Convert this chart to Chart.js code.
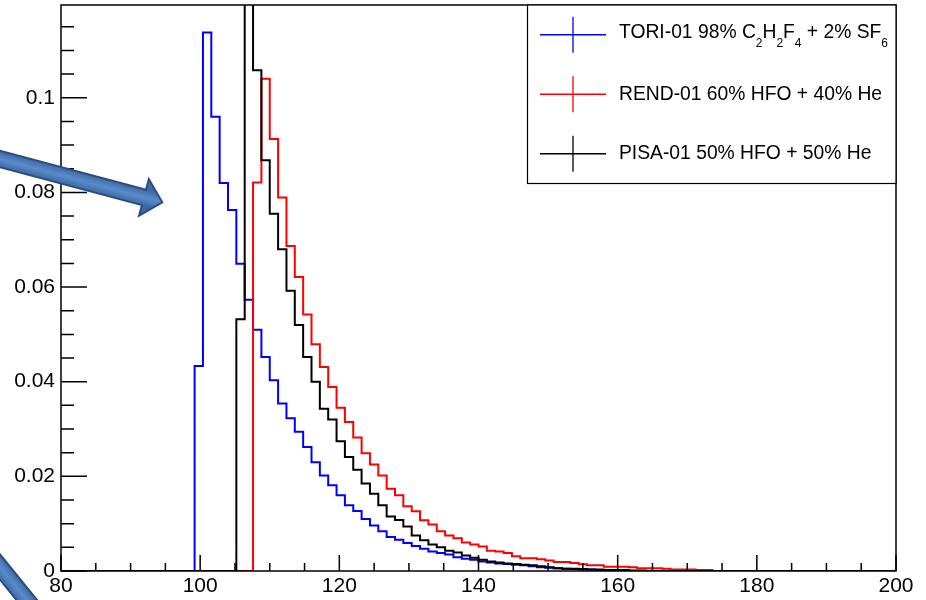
<!DOCTYPE html>
<html>
<head>
<meta charset="utf-8">
<script src="https://cdn.jsdelivr.net/npm/chart.js@4.4.1/dist/chart.umd.min.js"></script>
<style>
  html, body { margin: 0; padding: 0; background: #fff; }
  #wrap { width: 926px; height: 600px; }
</style>
</head>
<body>
<div id="wrap"><canvas id="chart" width="926" height="600"></canvas></div>
<script>
// binning of the histograms: 100 bins between 80 and 200
const xMin = 80;
const xMax = 200;
const nBins = 100;
const binWidth = (xMax - xMin) / nBins;

const xTicks = [80, 100, 120, 140, 160, 180, 200];
const xTickLabels = ['80', '100', '120', '140', '160', '180', '200'];
const yTicks = [0, 0.02, 0.04, 0.06, 0.08, 0.1];
const yTickLabels = ['0', '0.02', '0.04', '0.06', '0.08', '0.1'];
const yMax = 0.1196;

// legend texts (ROOT style subscripts)
const legendLabels = [
    'TORI-01 98% C_{2}H_{2}F_{4} + 2% SF_{6}',
    'REND-01 60% HFO + 40% He',
    'PISA-01 50% HFO + 50% He'
];
const legendColors = ['#0000ff', '#ff0000', '#000000'];

// bin contents, starting at the first non empty bin
const toriFirstBin = 16;
const toriValues = [
    0.0433, 0.1138, 0.0960, 0.0820, 0.0763, 0.0649, 0.0573, 0.0510, 0.0452, 0.0403,
    0.0354, 0.0323, 0.0294, 0.0262, 0.0230, 0.0202, 0.0181, 0.0160, 0.0139, 0.0127,
    0.0110, 0.0096, 0.0084, 0.0072, 0.0066, 0.0059, 0.0053, 0.0047, 0.0041, 0.0038,
    0.0035, 0.0029, 0.0026, 0.0024, 0.0020, 0.0018, 0.0016, 0.0015, 0.0013, 0.0012,
    0.0010, 0.0008, 0.0007, 0.0006, 0.0005, 0.0004, 0.0003, 0.0003, 0.0002, 0.0002,
    0.0001, 0.0001
];

const rendFirstBin = 23;
const rendValues = [
    0.0821, 0.1040, 0.0913, 0.0789, 0.0687, 0.0621, 0.0542, 0.0479, 0.0431, 0.0389,
    0.0345, 0.0315, 0.0282, 0.0249, 0.0225, 0.0202, 0.0174, 0.0160, 0.0137, 0.0126,
    0.0107, 0.0098, 0.0084, 0.0075, 0.0069, 0.0060, 0.0056, 0.0052, 0.0043, 0.0041,
    0.0038, 0.0031, 0.0027, 0.0027, 0.0025, 0.0022, 0.0019, 0.0019, 0.0017, 0.0014,
    0.0012, 0.0012, 0.0009, 0.0009, 0.0009, 0.0008, 0.0006, 0.0006, 0.0006, 0.0005,
    0.0003, 0.0003, 0.0003, 0.0002, 0.0002
];

// 2nd bin goes above the frame (clipped in the original)
const pisaFirstBin = 21;
const pisaValues = [
    0.0532, 0.1280, 0.1058, 0.0868, 0.0755, 0.0680, 0.0592, 0.0520, 0.0452, 0.0400,
    0.0343, 0.0320, 0.0274, 0.0241, 0.0214, 0.0185, 0.0163, 0.0139, 0.0115, 0.0108,
    0.0094, 0.0075, 0.0065, 0.0056, 0.0050, 0.0043, 0.0039, 0.0033, 0.0028, 0.0024,
    0.0020, 0.0018, 0.0016, 0.0015, 0.0013, 0.0012, 0.0010, 0.0008, 0.0006, 0.0005,
    0.0005, 0.0004, 0.0003, 0.0003, 0.0002, 0.0002, 0.0002, 0.0001, 0.0001
];

// turn bin contents into step points (left edge of every bin + closing point)
function histPoints(firstBin, values) {
    const pts = [];
    for (let i = 0; i < nBins; i++) {
        const j = i - firstBin;
        const v = (j >= 0 && j < values.length) ? values[j] : 0;
        pts.push({ x: xMin + i * binWidth, y: v });
    }
    pts.push({ x: xMax, y: 0 });
    return pts;
}

function histDataset(label, color, firstBin, values) {
    return {
        label: label,
        data: histPoints(firstBin, values),
        borderColor: color,
        borderWidth: 2,
        pointRadius: 0,
        stepped: 'before',
        fill: false,
        borderJoinStyle: 'miter'
    };
}

// ROOT like frame with inner ticks
const rootFrame = {
    id: 'rootFrame',
    afterDatasetsDraw(chart) {
        const { ctx, chartArea: a, scales: { x, y } } = chart;
        ctx.save();
        ctx.strokeStyle = '#000';
        ctx.lineWidth = 1.5;
        ctx.strokeRect(a.left, a.top, a.right - a.left, a.bottom - a.top);
        ctx.beginPath();
        for (let k = 0; xMin + k * 5 <= xMax; k++) {
            const px = x.getPixelForValue(xMin + k * 5);
            const len = (k % 4 === 0) ? 16 : 8;
            ctx.moveTo(px, a.bottom);
            ctx.lineTo(px, a.bottom - len);
        }
        for (let k = 0; k * 0.005 <= yMax; k++) {
            const py = y.getPixelForValue(k * 0.005);
            const len = (k % 4 === 0) ? 26 : 13;
            ctx.moveTo(a.left, py);
            ctx.lineTo(a.left + len, py);
        }
        ctx.stroke();
        ctx.restore();
    }
};

// draws text with _{..} subscripts
function drawLatex(ctx, text, x, y, size) {
    const parts = text.split(/_\{(.*?)\}/);
    let cx = x;
    parts.forEach((p, i) => {
        if (!p) return;
        const sub = i % 2 === 1;
        const fs = sub ? size * 0.62 : size;
        ctx.font = fs + 'px "Liberation Sans"';
        ctx.fillText(p, cx, sub ? y + 11 : y);
        cx += ctx.measureText(p).width;
    });
}

const rootLegend = {
    id: 'rootLegend',
    afterDraw(chart) {
        const ctx = chart.ctx;
        const a = chart.chartArea;
        const box = { left: 527.5, top: a.top, right: a.right, bottom: 183.5 };
        ctx.save();
        ctx.fillStyle = '#fff';
        ctx.fillRect(box.left, box.top, box.right - box.left, box.bottom - box.top);
        ctx.strokeStyle = '#000';
        ctx.lineWidth = 1.2;
        ctx.strokeRect(box.left, box.top, box.right - box.left, box.bottom - box.top);
        const rowH = (box.bottom - box.top) / legendLabels.length;
        legendLabels.forEach((lab, i) => {
            const cy = box.top + rowH * (i + 0.5);
            ctx.strokeStyle = legendColors[i];
            ctx.lineWidth = 1.3;
            ctx.beginPath();
            ctx.moveTo(540, cy);
            ctx.lineTo(606, cy);
            ctx.moveTo(573, cy - 18);
            ctx.lineTo(573, cy + 18);
            ctx.stroke();
            ctx.fillStyle = '#000';
            ctx.textBaseline = 'middle';
            ctx.textAlign = 'left';
            drawLatex(ctx, lab, 619, lab.indexOf('_{') >= 0 ? cy - 2.5 : cy, 19.3);
        });
        ctx.restore();
    }
};

// the two blue slide arrows pasted on the picture
function drawArrow(ctx, x0, y0, x1, y1, half, headLen, headHalf) {
    const L = Math.hypot(x1 - x0, y1 - y0);
    const ux = (x1 - x0) / L, uy = (y1 - y0) / L;
    const px = -uy, py = ux;
    const bx = x1 - ux * headLen, by = y1 - uy * headLen;
    ctx.beginPath();
    ctx.moveTo(x0 + px * half, y0 + py * half);
    ctx.lineTo(bx + px * half, by + py * half);
    ctx.lineTo(bx + px * headHalf, by + py * headHalf);
    ctx.lineTo(x1, y1);
    ctx.lineTo(bx - px * headHalf, by - py * headHalf);
    ctx.lineTo(bx - px * half, by - py * half);
    ctx.lineTo(x0 - px * half, y0 - py * half);
    ctx.closePath();
    const g = ctx.createLinearGradient(x0 + px * half, y0 + py * half, x0 - px * half, y0 - py * half);
    g.addColorStop(0, '#3d68a6');
    g.addColorStop(0.5, '#5a8cc9');
    g.addColorStop(1, '#3d68a6');
    ctx.fillStyle = g;
    ctx.fill();
    ctx.strokeStyle = '#2c4d7c';
    ctx.lineWidth = 2;
    ctx.stroke();
}

const slideArrows = {
    id: 'slideArrows',
    afterDraw(chart) {
        const ctx = chart.ctx;
        ctx.save();
        drawArrow(ctx, -20, 153.7, 162.3, 202.3, 8, 19, 19);
        drawArrow(ctx, -20, 542.4, 90, 678, 8, 20, 19);
        ctx.restore();
    }
};

Chart.defaults.font.family = '"Liberation Sans", Arial, sans-serif';
Chart.defaults.color = '#000';

const ctx = document.getElementById('chart').getContext('2d');
new Chart(ctx, {
    type: 'line',
    data: {
        datasets: [
            histDataset(legendLabels[2], legendColors[2], pisaFirstBin, pisaValues),
            histDataset(legendLabels[1], legendColors[1], rendFirstBin, rendValues),
            histDataset(legendLabels[0], legendColors[0], toriFirstBin, toriValues)
        ]
    },
    options: {
        responsive: false,
        animation: false,
        devicePixelRatio: 1,
        layout: { padding: { top: 5, right: 30, left: 0, bottom: 0 } },
        plugins: {
            legend: { display: false },
            tooltip: { enabled: false }
        },
        scales: {
            x: {
                type: 'linear',
                min: xMin,
                max: xMax,
                grid: { display: false, drawTicks: false },
                border: { display: false },
                afterBuildTicks: (s) => { s.ticks = xTicks.map(v => ({ value: v })); },
                afterFit: (s) => {
                    s.height = 29;
                    s.paddingLeft = 0;
                    s.paddingRight = 0;
                },
                ticks: {
                    font: { size: 21 },
                    padding: 3,
                    maxRotation: 0,
                    autoSkip: false,
                    callback: (v, i) => xTickLabels[i]
                }
            },
            y: {
                type: 'linear',
                min: 0,
                max: yMax,
                grid: { display: false, drawTicks: false },
                border: { display: false },
                afterBuildTicks: (s) => { s.ticks = yTicks.map(v => ({ value: v })); },
                afterFit: (s) => {
                    s.width = 61;
                    s.paddingTop = 0;
                    s.paddingBottom = 0;
                },
                ticks: {
                    font: { size: 21 },
                    padding: 6,
                    autoSkip: false,
                    callback: (v, i) => yTickLabels[i]
                }
            }
        }
    },
    plugins: [rootFrame, rootLegend, slideArrows]
});
</script>
</body>
</html>
